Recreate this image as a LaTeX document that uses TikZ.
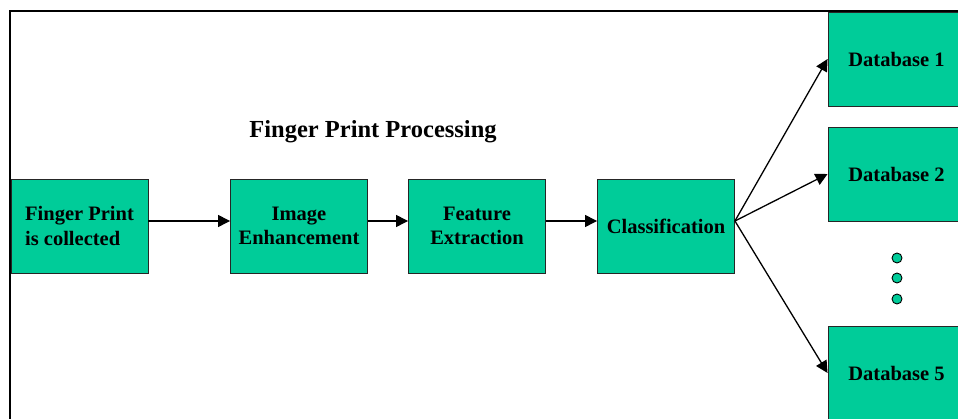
\documentclass[tikz,border=0pt]{standalone}
\usepackage{fontspec}
\setmainfont{Liberation Serif}
\usetikzlibrary{arrows.meta}

\definecolor{boxgreen}{RGB}{0,204,153}

\begin{document}
\begin{tikzpicture}[x=1pt,y=1pt,
    stage/.style={draw=black!85, line width=0.9pt, fill=boxgreen,
        minimum width=137pt, minimum height=94pt, align=center,
        font=\fontsize{20.5}{24.5}\selectfont\bfseries},
    flow/.style={-{Triangle[length=12pt,width=12pt]}, line width=1.3pt},
    dot/.style={circle, draw=black, line width=0.9pt, fill=boxgreen,
        inner sep=0pt, minimum size=10pt}]
    \useasboundingbox (0,0) rectangle (958,-419);
    \clip (0,0) rectangle (958,-419);

    % Frame (only top and left edges are visible)
    \draw [line width=2pt] (958,-11) -- (10,-11) -- (10,-419);

    % Title
    \node (title) at (373,-132) {\fontsize{24.5}{29}\selectfont\bfseries Finger Print Processing};

    % Processing chain
    \node [stage, align=left] (collect) at (79.5,-226) {Finger Print\\is collected};
    \node [stage] (enhance) at (299,-226) {Image\\Enhancement};
    \node [stage] (extract) at (477,-226) {Feature\\Extraction};
    \node [stage] (classify) at (666,-226) {Classification};

    % Databases, cut off at the right border
    \node [stage] (db1) at (896.5,-59) {Database 1};
    \node [stage] (db2) at (896.5,-174) {Database 2};
    \node [stage] (db5) at (896.5,-373) {Database 5};

    % Dots between database 2 and 5
    \foreach \y [count=\i] in {258,278,299}
        \node [dot] (gap\i) at (897,-\y) {};

    % Arrows
    \draw [flow] ([yshift=5pt]collect.east) -- ([yshift=5pt]enhance.west);
    \draw [flow] ([yshift=5pt]enhance.east) -- ([yshift=5pt]extract.west);
    \draw [flow] ([yshift=5pt]extract.east) -- ([yshift=5pt]classify.west);
    \draw [flow] ([yshift=5pt]classify.east) -- (db1.west);
    \draw [flow] ([yshift=5pt]classify.east) -- (db2.west);
    \draw [flow] ([yshift=5pt]classify.east) -- (db5.west);
\end{tikzpicture}
\end{document}
